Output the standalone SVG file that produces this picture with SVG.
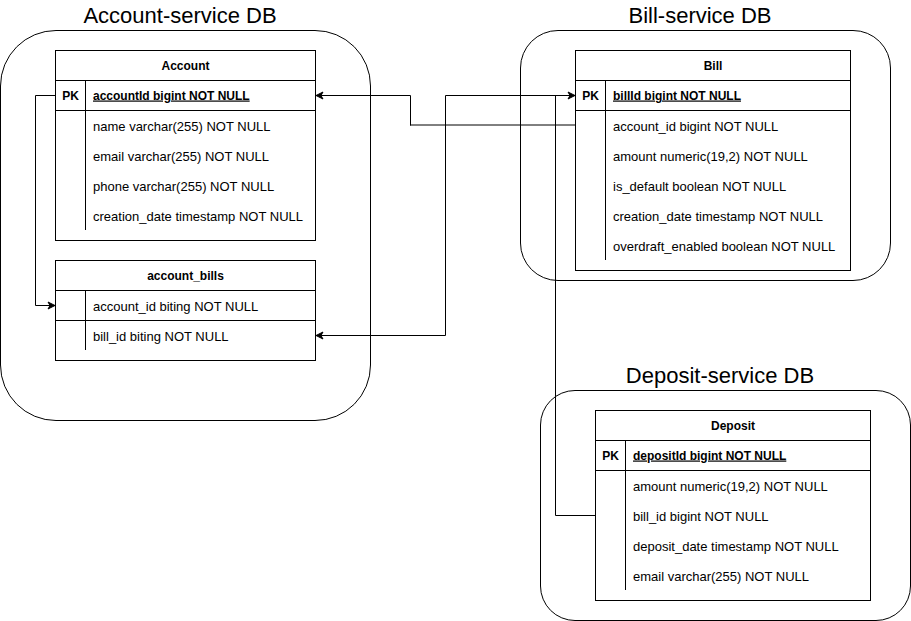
<svg xmlns="http://www.w3.org/2000/svg" width="911" height="621" viewBox="0 0 911 621">
<defs>
<style>
.ctr{fill:#fff;stroke:#000;stroke-width:1}
.tb{fill:#fff;stroke:#000;stroke-width:1}
.ln{fill:none;stroke:#000;stroke-width:1}
.title{font-family:"Liberation Sans",Arial,sans-serif;font-size:22px;fill:#000;text-anchor:middle}
.hd{font-family:"Liberation Sans",Arial,sans-serif;font-size:12px;font-weight:bold;fill:#000;text-anchor:middle}
.pk{font-family:"Liberation Sans",Arial,sans-serif;font-size:12px;font-weight:bold;fill:#000;text-anchor:middle}
.pkf{font-family:"Liberation Sans",Arial,sans-serif;font-size:12px;font-weight:bold;fill:#000;text-decoration:underline}
.f{font-family:"Liberation Sans",Arial,sans-serif;font-size:13px;fill:#000}
.cn{fill:none;stroke:#000;stroke-width:1}
</style>
<marker id="arr" viewBox="-8 -5 9 10" refX="0" refY="0" markerWidth="9" markerHeight="10" markerUnits="userSpaceOnUse" orient="auto-start-reverse">
<path d="M0,0 L-7,-3.5 L-5,0 L-7,3.5 Z" fill="#000" stroke="#000" stroke-width="1"/>
</marker>
</defs>
<rect width="911" height="621" fill="#fff"/>

<g id="account-service-db">
<rect class="ctr" x="0.5" y="30.5" width="370" height="390" rx="55.5" ry="55.5"/>
<text class="title" x="180" y="23">Account-service DB</text>
</g>
<g id="bill-service-db">
<rect class="ctr" x="520.5" y="30.5" width="370" height="250" rx="37.5" ry="37.5"/>
<text class="title" x="700" y="23">Bill-service DB</text>
</g>
<g id="deposit-service-db">
<rect class="ctr" x="540.5" y="390.5" width="370" height="230" rx="34.5" ry="34.5"/>
<text class="title" x="720" y="383">Deposit-service DB</text>
</g>

<g id="connectors">
<path class="cn" d="M55.5,95.5 H35.5 V305.5 H55" marker-end="url(#arr)"/>
<path class="cn" d="M410.5,125.5 V95.5 H316" marker-end="url(#arr)"/>
<path d="M575,125 H410" fill="none" stroke="#000" stroke-width="1"/>
<path class="cn" d="M316,335.5 H445.5 V95.5 H575" marker-start="url(#arr)" marker-end="url(#arr)"/>
<path class="cn" d="M595.5,515.5 H555.5 V95.5 H575"/>
</g>

<g id="account">
<rect class="tb" x="55.5" y="50.5" width="260" height="190"/>
<path class="ln" d="M55.5,80.5 H315.5 M55.5,110.5 H315.5 M85.5,80.5 V230"/>
<text class="hd" x="185.5" y="69.5">Account</text>
<text class="pk" x="70.5" y="99.5">PK</text>
<text class="pkf" x="93" y="99.5">accountId bigint NOT NULL</text>
<text class="f" x="93" y="130.5">name varchar(255) NOT NULL</text>
<text class="f" x="93" y="160.5">email varchar(255) NOT NULL</text>
<text class="f" x="93" y="190.5">phone varchar(255) NOT NULL</text>
<text class="f" x="93" y="220.5">creation_date timestamp NOT NULL</text>
</g>

<g id="account_bills">
<rect class="tb" x="55.5" y="260.5" width="260" height="100"/>
<path class="ln" d="M55.5,290.5 H315.5 M55.5,320.5 H315.5 M85.5,290.5 V350"/>
<text class="hd" x="185.5" y="279.5">account_bills</text>
<text class="f" x="93" y="310.5">account_id biting NOT NULL</text>
<text class="f" x="93" y="340.5">bill_id biting NOT NULL</text>
</g>

<g id="bill">
<rect class="tb" x="575.5" y="50.5" width="275" height="220"/>
<path class="ln" d="M575.5,80.5 H850.5 M575.5,110.5 H850.5 M605.5,80.5 V260"/>
<text class="hd" x="713" y="69.5">Bill</text>
<text class="pk" x="590.5" y="99.5">PK</text>
<text class="pkf" x="613" y="99.5">billId bigint NOT NULL</text>
<text class="f" x="613" y="130.5">account_id bigint NOT NULL</text>
<text class="f" x="613" y="160.5">amount numeric(19,2) NOT NULL</text>
<text class="f" x="613" y="190.5">is_default boolean NOT NULL</text>
<text class="f" x="613" y="220.5">creation_date timestamp NOT NULL</text>
<text class="f" x="613" y="250.5">overdraft_enabled boolean NOT NULL</text>
</g>

<g id="deposit">
<rect class="tb" x="595.5" y="410.5" width="275" height="190"/>
<path class="ln" d="M595.5,440.5 H870.5 M595.5,470.5 H870.5 M625.5,440.5 V590"/>
<text class="hd" x="733" y="429.5">Deposit</text>
<text class="pk" x="610.5" y="459.5">PK</text>
<text class="pkf" x="633" y="459.5">depositId bigint NOT NULL</text>
<text class="f" x="633" y="490.5">amount numeric(19,2) NOT NULL</text>
<text class="f" x="633" y="520.5">bill_id bigint NOT NULL</text>
<text class="f" x="633" y="550.5">deposit_date timestamp NOT NULL</text>
<text class="f" x="633" y="580.5">email varchar(255) NOT NULL</text>
</g>
</svg>
